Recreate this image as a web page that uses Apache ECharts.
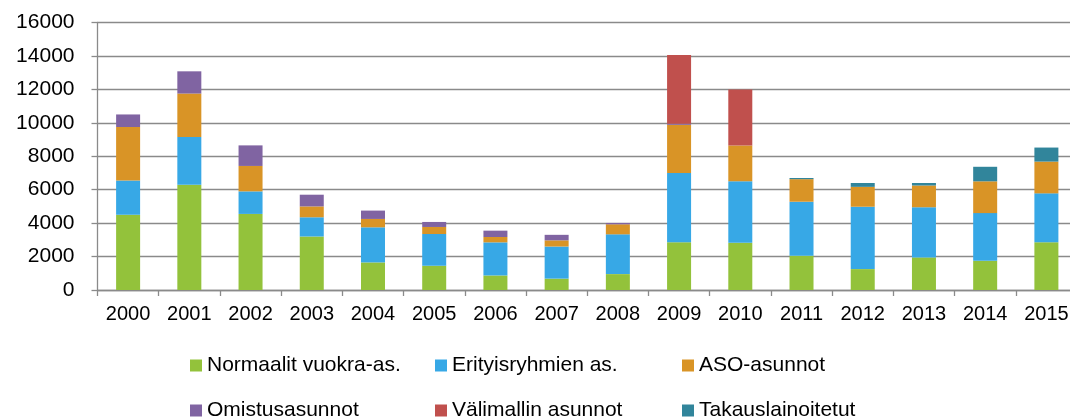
<!DOCTYPE html>
<html>
<head>
<meta charset="utf-8">
<script src="https://cdn.jsdelivr.net/npm/echarts@6/dist/echarts.min.js"></script>
<style>
  html, body { margin: 0; padding: 0; background: #ffffff; }
  #chart { width: 1070px; height: 419px; }
</style>
</head>
<body>
<div id="chart"></div>
<script>
const categories = ['2000','2001','2002','2003','2004','2005','2006','2007','2008','2009','2010','2011','2012','2013','2014','2015'];
const seriesNames = ['Normaalit vuokra-as.', 'Erityisryhmien as.', 'ASO-asunnot', 'Omistusasunnot', 'Välimallin asunnot', 'Takauslainoitetut'];
const normaalit  = [4500, 6300, 4550, 3200, 1650, 1450, 870, 680, 950, 2850, 2830, 2050, 1250, 1950, 1750, 2850];
const erityis    = [2050, 2850, 1350, 1150, 2100, 1900, 1980, 1920, 2380, 4150, 3670, 3230, 3730, 3000, 2850, 2930];
const aso        = [3200, 2600, 1520, 650, 500, 420, 320, 370, 600, 2880, 2150, 1350, 1190, 1300, 1900, 1900];
const omistus    = [750, 1330, 1230, 700, 500, 300, 380, 330, 80, 70, 0, 0, 0, 0, 0, 0];
const valimallin = [0, 0, 0, 0, 0, 0, 0, 0, 0, 4100, 3350, 0, 0, 0, 0, 0];
const takaus     = [0, 0, 0, 0, 0, 0, 0, 0, 0, 0, 0, 70, 230, 150, 870, 840];
const yTicks = { min: 0, max: 16000, interval: 2000 };

const colors = ['#93c23b', '#37a8e6', '#d99426', '#8064a2', '#c0504d', '#31859b'];
const values = [normaalit, erityis, aso, omistus, valimallin, takaus];

const font = 'Arial, "Liberation Sans", sans-serif';
const legendPos = [
  { left: 190, top: 355 }, { left: 435, top: 355 }, { left: 682, top: 355 },
  { left: 190, top: 400 }, { left: 435, top: 400 }, { left: 682, top: 400 }
];

const chart = echarts.init(document.getElementById('chart'), null, { renderer: 'canvas' });
chart.setOption({
  animation: false,
  backgroundColor: '#ffffff',
  color: colors,
  grid: { left: 97.5, right: -7, top: 22.5, bottom: 129, containLabel: false, outerBoundsMode: 'none' },
  legend: seriesNames.map((n, i) => ({
    data: [n],
    left: legendPos[i].left,
    top: legendPos[i].top,
    padding: 0,
    itemWidth: 12,
    itemHeight: 12,
    icon: 'rect',
    textStyle: { fontSize: 21, color: '#000000', fontFamily: font }
  })),
  xAxis: {
    type: 'category',
    data: categories,
    axisLine: { show: true, lineStyle: { color: '#8a8a8a', width: 1.3 } },
    axisTick: { show: true, length: 6, lineStyle: { color: '#8a8a8a', width: 1.3 } },
    axisLabel: { fontSize: 20, color: '#000000', fontFamily: font, margin: 14, interval: 0 }
  },
  yAxis: {
    type: 'value',
    min: yTicks.min,
    max: yTicks.max,
    interval: yTicks.interval,
    axisLine: { show: true, lineStyle: { color: '#8a8a8a', width: 1.3 } },
    axisTick: { show: true, length: 6, lineStyle: { color: '#8a8a8a', width: 1.3 } },
    axisLabel: { fontSize: 21, color: '#000000', fontFamily: font, margin: 23, formatter: v => String(v) },
    splitLine: { show: true, lineStyle: { color: '#8a8a8a', width: 1.3 } }
  },
  series: seriesNames.map((n, i) => ({
    name: n,
    type: 'bar',
    stack: 'total',
    barWidth: 24,
    data: values[i],
    itemStyle: { color: colors[i] }
  }))
});
</script>
</body>
</html>
